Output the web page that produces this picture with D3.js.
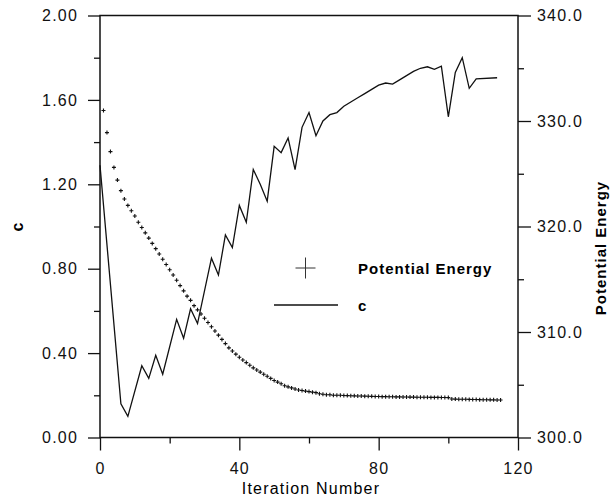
<!DOCTYPE html>
<html>
<head>
<meta charset="utf-8">
<script src="https://cdn.jsdelivr.net/npm/d3@7"></script>
<style>
  body { margin: 0; background: #fff; }
  svg { display: block; font-family: "Liberation Sans", Arial, sans-serif; }
</style>
</head>
<body>
<svg id="chart" width="610" height="499"></svg>
<script>
// c values (left axis), read at the line's corners
var cIter = [0, 6, 8, 12, 14, 16, 18, 22, 24, 26, 28, 32, 34, 36, 38, 40, 42, 44, 46, 48,
  50, 52, 54, 56, 58, 60, 62, 64, 66, 68, 70, 72, 74, 76, 78, 80, 82, 84, 86, 88,
  90, 92, 94, 96, 98, 100, 102, 104, 106, 108, 114];
var cVals = [1.29, 0.16, 0.10, 0.34, 0.28, 0.39, 0.30, 0.56, 0.47, 0.61, 0.54, 0.85, 0.77, 0.96, 0.90, 1.10, 1.02, 1.27, 1.20, 1.12,
  1.38, 1.35, 1.42, 1.27, 1.47, 1.54, 1.43, 1.50, 1.53, 1.54, 1.57, 1.59, 1.61, 1.63, 1.65, 1.67, 1.68, 1.675, 1.695, 1.715,
  1.735, 1.75, 1.757, 1.745, 1.76, 1.52, 1.73, 1.80, 1.655, 1.70, 1.705];

// potential energy (right axis), one marker per iteration starting at 1
var peVals = [
  331.0, 328.9, 327.1, 325.6, 324.4, 323.4, 322.6, 322.0, 321.5, 321.0,
  320.4, 319.9, 319.4, 318.9, 318.4, 317.9, 317.4, 316.9, 316.4, 315.9,
  315.4, 314.9, 314.4, 313.9, 313.4, 313.0, 312.5, 312.1, 311.7, 311.3,
  310.9, 310.5, 310.1, 309.7, 309.3, 308.9, 308.5, 308.2, 307.9, 307.6,
  307.35, 307.1, 306.85, 306.6, 306.4, 306.2, 306.0, 305.8, 305.6, 305.4,
  305.25, 305.1, 304.9, 304.8, 304.7, 304.6, 304.5, 304.45, 304.4, 304.35,
  304.3, 304.25, 304.15, 304.1, 304.05, 304.05, 304.0, 304.0, 304.0, 303.98,
  303.97, 303.96, 303.95, 303.94, 303.93, 303.92, 303.91, 303.9, 303.89, 303.88,
  303.87, 303.87, 303.86, 303.86, 303.85, 303.85, 303.84, 303.84, 303.83, 303.83,
  303.82, 303.82, 303.81, 303.81, 303.8, 303.8, 303.8, 303.79, 303.79, 303.78,
  303.65, 303.64, 303.63, 303.62, 303.62, 303.61, 303.6, 303.6, 303.59, 303.58,
  303.58, 303.57, 303.57, 303.56, 303.55];

var xTicks = [0, 40, 80, 120];
var xMinor = [20, 60, 100];
var cTicks = [0, 0.4, 0.8, 1.2, 1.6, 2.0];
var cMinor = [0.2, 0.6, 1.0, 1.4, 1.8];
var peTicks = [300, 310, 320, 330, 340];
var peMinor = [305, 315, 325, 335];

var dims = { left: 100, right: 518, top: 15.5, bottom: 437.5 };

var svg = d3.select("#chart");

var xScale = d3.scaleLinear().domain([0, 120]).range([dims.left, dims.right]);
var yLeft = d3.scaleLinear().domain([0, 2]).range([dims.bottom, dims.top]);
var yRight = d3.scaleLinear().domain([300, 340]).range([dims.bottom, dims.top]);

var tickFont = "16px";

function styleAxis(g) {
  g.select(".domain").remove();
  g.selectAll("line").attr("stroke", "#111").attr("stroke-width", 1.3);
  g.selectAll("text")
    .attr("fill", "#111")
    .style("font-size", tickFont)
    .style("letter-spacing", "1.2px");
}

// frame
svg.append("rect")
  .attr("x", dims.left).attr("y", dims.top)
  .attr("width", dims.right - dims.left).attr("height", dims.bottom - dims.top)
  .attr("fill", "none").attr("stroke", "#111").attr("stroke-width", 1.5);

// bottom axis
svg.append("g")
  .attr("transform", "translate(0," + dims.bottom + ")")
  .call(d3.axisBottom(xScale).tickValues(xTicks).tickSize(13).tickPadding(12).tickFormat(d3.format("d")))
  .call(styleAxis);
svg.append("g")
  .attr("transform", "translate(0," + dims.bottom + ")")
  .call(d3.axisBottom(xScale).tickValues(xMinor).tickSize(6).tickFormat(""))
  .call(styleAxis);

// left axis
svg.append("g")
  .attr("transform", "translate(" + dims.left + ",0)")
  .call(d3.axisLeft(yLeft).tickValues(cTicks).tickSize(12).tickPadding(10).tickFormat(d3.format(".2f")))
  .call(styleAxis);
svg.append("g")
  .attr("transform", "translate(" + dims.left + ",0)")
  .call(d3.axisLeft(yLeft).tickValues(cMinor).tickSize(6).tickFormat(""))
  .call(styleAxis);

// right axis
svg.append("g")
  .attr("transform", "translate(" + dims.right + ",0)")
  .call(d3.axisRight(yRight).tickValues(peTicks).tickSize(13).tickPadding(6).tickFormat(d3.format(".1f")))
  .call(styleAxis);
svg.append("g")
  .attr("transform", "translate(" + dims.right + ",0)")
  .call(d3.axisRight(yRight).tickValues(peMinor).tickSize(6).tickFormat(""))
  .call(styleAxis);

// axis titles
svg.append("text")
  .attr("x", (dims.left + dims.right) / 2 + 2)
  .attr("y", 494)
  .attr("text-anchor", "middle")
  .style("font-size", "16px")
  .style("letter-spacing", "1.2px")
  .text("Iteration Number");

svg.append("text")
  .attr("transform", "translate(23,227) rotate(-90)")
  .attr("text-anchor", "middle")
  .style("font-size", "16px")
  .style("font-weight", "bold")
  .text("c");

svg.append("text")
  .attr("transform", "translate(606,248) rotate(-90)")
  .attr("text-anchor", "middle")
  .style("font-size", "15px")
  .style("font-weight", "bold")
  .style("letter-spacing", "1px")
  .text("Potential Energy");

// c line
var cData = cIter.map(function (d, i) { return { it: d, v: cVals[i] }; });
var line = d3.line()
  .x(function (d) { return xScale(d.it); })
  .y(function (d) { return yLeft(d.v); });

svg.append("path")
  .datum(cData)
  .attr("d", line)
  .attr("fill", "none")
  .attr("stroke", "#111")
  .attr("stroke-width", 1.3)
  .attr("stroke-linejoin", "miter");

// potential energy markers
var plus = "M-2,0H2M0,-2V2";
svg.append("g")
  .selectAll("path")
  .data(peVals)
  .enter()
  .append("path")
  .attr("transform", function (d, i) {
    return "translate(" + xScale(i + 1) + "," + yRight(d) + ")";
  })
  .attr("d", plus)
  .attr("stroke", "#111")
  .attr("stroke-width", 1.1)
  .attr("fill", "none");

// legend
var legend = svg.append("g");
legend.append("path")
  .attr("d", "M295.5,268H315.5M305.5,257.5V278.5")
  .attr("stroke", "#333")
  .attr("stroke-width", 1);
legend.append("text")
  .attr("x", 358).attr("y", 274)
  .style("font-size", "15px")
  .style("font-weight", "bold")
  .style("letter-spacing", "1px")
  .text("Potential Energy");
legend.append("line")
  .attr("x1", 274).attr("x2", 338)
  .attr("y1", 305).attr("y2", 305)
  .attr("stroke", "#111")
  .attr("stroke-width", 1.3);
legend.append("text")
  .attr("x", 358).attr("y", 311)
  .style("font-size", "15px")
  .style("font-weight", "bold")
  .text("c");
</script>
</body>
</html>
